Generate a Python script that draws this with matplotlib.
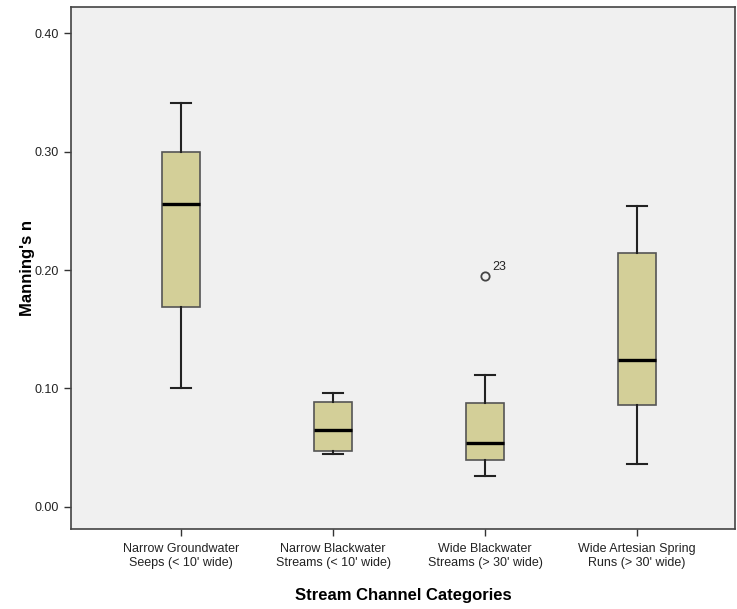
import numpy as np
import matplotlib.pyplot as plt

plt.rcParams['font.family'] = ['Liberation Sans', 'DejaVu Sans']

categories = ["Narrow Groundwater\nSeeps (< 10' wide)",
              "Narrow Blackwater\nStreams (< 10' wide)",
              "Wide Blackwater\nStreams (> 30' wide)",
              "Wide Artesian Spring\nRuns (> 30' wide)"]
whislo = [0.100, 0.045, 0.026, 0.036]
q1 = [0.169, 0.047, 0.040, 0.086]
med = [0.256, 0.065, 0.054, 0.124]
q3 = [0.300, 0.089, 0.088, 0.214]
whishi = [0.341, 0.096, 0.111, 0.254]
fliers = [[], [], [0.195], []]
flier_ids = [[], [], ["23"], []]

stats = []
for i in range(len(categories)):
    stats.append(dict(whislo=whislo[i], q1=q1[i], med=med[i], q3=q3[i],
                      whishi=whishi[i], fliers=fliers[i]))

fig = plt.figure(figsize=(7.37, 6.09), dpi=100)
ax = fig.add_axes([71/737, 80/609, 664/737, 522/609])
ax.set_facecolor('#f0f0f0')

pos = np.arange(len(categories))
ax.bxp(stats, positions=pos, widths=0.255, patch_artist=True,
       boxprops=dict(facecolor='#d3cf98', edgecolor='#555555', linewidth=1.2),
       medianprops=dict(color='black', linewidth=2.4),
       whiskerprops=dict(color='#222222', linewidth=1.5),
       capprops=dict(color='#222222', linewidth=1.5),
       capwidths=0.13,
       flierprops=dict(marker='o', markersize=6, markerfacecolor='none',
                       markeredgecolor='#444444', markeredgewidth=1.3))

for i in range(len(categories)):
    for v, lab in zip(fliers[i], flier_ids[i]):
        ax.annotate(lab, (pos[i], v), xytext=(5, 2), textcoords='offset points',
                    fontsize=9, color='#222222', va='bottom')

ax.set_xlim(-0.724, 3.645)
ax.set_ylim(-0.0186, 0.422)
ax.set_yticks([0.0, 0.1, 0.2, 0.3, 0.4])
ax.set_yticklabels(['0.00', '0.10', '0.20', '0.30', '0.40'])
ax.set_xticks(pos)
ax.set_xticklabels(categories, linespacing=1.2)
ax.tick_params(axis='both', direction='out', length=5, width=1, color='#333333',
               labelsize=9, labelcolor='#222222')
ax.tick_params(axis='x', pad=5)
for s in ax.spines.values():
    s.set_color('#444444')
    s.set_linewidth(1.2)

ax.set_ylabel("Manning's n", fontsize=12, fontweight='bold', labelpad=0)
ax.set_xlabel("Stream Channel Categories", fontsize=12, fontweight='bold', labelpad=14)

fig.savefig('out.png', dpi=100)
